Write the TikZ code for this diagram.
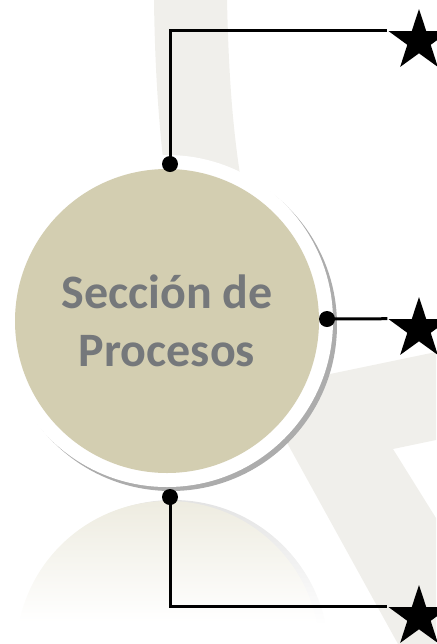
\documentclass[tikz,border=0pt]{standalone}
\usepackage{fontspec}
\setmainfont{Carlito}
\usetikzlibrary{shapes.geometric}
\definecolor{beige}{HTML}{D3CEB1}
\definecolor{bgband}{HTML}{F0EFEB}
\definecolor{txtgrey}{HTML}{75787B}

\begin{document}
\begin{tikzpicture}[x=0.5pt,y=-0.5pt,
  dot/.style={circle,fill,inner sep=0pt,minimum size=8pt},
  starmark/.style={star,star points=5,star point ratio=2.6,fill,inner sep=0pt,minimum size=32pt},
  link/.style={line width=1.5pt}]
  \useasboundingbox (0,0) rectangle (436,644);

  % watermark behind
  \fill[bgband] (154,0) -- (227,0) .. controls (229,90) and (234,140) .. (244,200) -- (168,200) .. controls (160,140) and (155,80) .. (154,0);
  \fill[bgband] (330,374) -- (436,352) -- (436,440) -- (393,449) -- (436,518) -- (436,644) -- (398,644) -- (280,430) -- cycle;

  % reflection
  \begin{scope}
    \clip (173,656) circle (156);
    \shade[top color=gray!22,bottom color=white] (0,498) rectangle (436,625);
  \end{scope}
  \begin{scope}
    \clip (168,653) circle (152);
    \shade[top color=beige!40,bottom color=white] (0,500) rectangle (436,622);
  \end{scope}

  % main circle
  \fill[gray!65] (171,325) circle (166);
  \fill[white] (167,321) circle (166);
  \node[circle,fill=beige,minimum size=152pt,align=center,text=txtgrey,
    font=\bfseries\fontsize{24}{29}\selectfont] (proc) at (167,321) {Sección de\\Procesos};

  \node[dot] (dtop) at (170,164) {};
  \node[dot] (dright) at (327,319) {};
  \node[dot] (dbot) at (170,497) {};

  \node[starmark] (s1) at (419,41) {};
  \node[starmark] (s2) at (419,329) {};
  \node[starmark] (s3) at (419,617) {};

  \draw[link] (dtop.center) |- (s1.outer point 2);
  \draw[link] (dright.center) -- (s2.outer point 2);
  \draw[link] (dbot.center) |- (s3.outer point 2);
\end{tikzpicture}
\end{document}
